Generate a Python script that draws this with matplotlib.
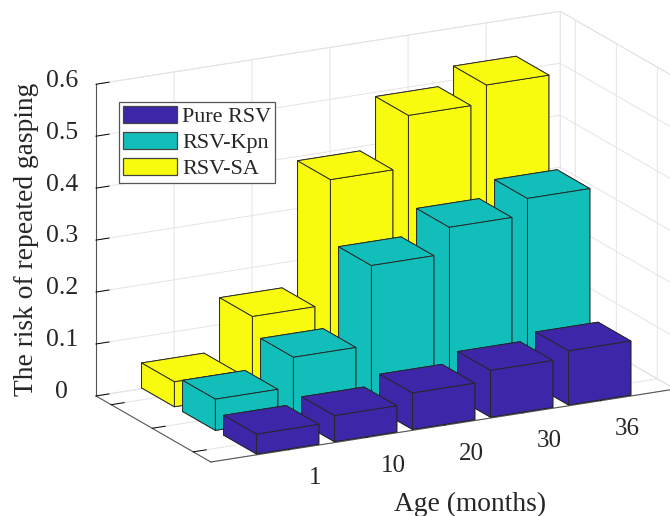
import matplotlib
matplotlib.use("Agg")
import matplotlib.pyplot as plt
import numpy as np
from matplotlib.patches import Patch
from matplotlib.transforms import ScaledTranslation
from mpl_toolkits.mplot3d import proj3d

ages = ['1', '10', '20', '30', '36']
series = ['Pure RSV', 'RSV-Kpn', 'RSV-SA']
pure = [0.038, 0.05, 0.07, 0.09, 0.104]
kpn = [0.06, 0.117, 0.27, 0.32, 0.352]
sa = [0.048, 0.15, 0.39, 0.49, 0.525]
values = [pure, kpn, sa]
colors = ['#3E26A8', '#12BEB9', '#F9FB0E']
zticks = [0, 0.1, 0.2, 0.3, 0.4, 0.5, 0.6]
ink = '#262626'

plt.rcParams['font.family'] = ['Liberation Serif']
W, H = 670, 516
fig = plt.figure(figsize=(W / 100, H / 100), dpi=100)
ax = fig.add_axes([0, 0, 1, 1.0], projection='3d', proj_type='ortho')
ax.computed_zorder = False
ax.view_init(elev=17.5, azim=-117.6)
ax.set_box_aspect((524, 248, 327), zoom=1.0)
XMIN, XMAX, YMIN, YMAX = 0, 5.95, 0.57, 3.37
w = 0.8
order = 0
for j in range(2, -1, -1):
    for i in range(len(ages) - 1, -1, -1):
        order += 1
        ax.bar3d(i + 1 - w / 2, j + 1 - w / 2, 0, w, w, values[j][i], color=colors[j],
                 edgecolor=ink, linewidth=0.65, shade=False, zsort='max', zorder=order)
ax.set_xlim(XMIN, XMAX)
ax.set_ylim(YMIN, YMAX)
ax.set_zlim(0, 0.6)
ax.set_xticks(range(1, 6))
ax.set_xticklabels(ages, fontsize=18, color=ink)
ax.set_yticks([1, 2, 3])
ax.set_yticklabels([])
ax.set_zticks(zticks)
ax.set_zticklabels([str(z) for z in zticks], fontsize=18.5, color=ink)
ax.tick_params(axis='x', pad=5)
ax.tick_params(axis='z', pad=5)
for a in (ax.xaxis, ax.yaxis, ax.zaxis):
    a.set_pane_color((1, 1, 1, 1))
    a.pane.set_edgecolor('#e4e4e4')
    a.pane.set_linewidth(0.7)
    a._axinfo['grid'].update(color='#e4e4e4', linewidth=0.7)
    a._axinfo['tick'].update(inward_factor=0.0, outward_factor=0.35, linewidth={True: 0.7, False: 0.7}, color=ink)
    a.line.set_color('#555555')
    a.line.set_linewidth(0.8)

# nudge the tick labels (pixels) to where the reference has them;
# Axis3D resets the label transform whenever it fetches its ticks, so hook that call
def nudge(axis, dx, dy):
    fetch = axis.get_major_ticks
    shift = ScaledTranslation(dx / 100, dy / 100, fig.dpi_scale_trans)
    def get_major_ticks(numticks=None):
        ticks = fetch(numticks)
        for t in ticks:
            t.label1.set_transform(ax.transData + shift)
        return ticks
    axis.get_major_ticks = get_major_ticks

nudge(ax.xaxis, 20, 3)
nudge(ax.zaxis, -3, 15)

# fit the axes box so that the floor corners land where the reference has them
def corner_px(x, y, z):
    xs, ys, _ = proj3d.proj_transform(x, y, z, ax.get_proj())
    return ax.transData.transform((xs, ys))

fig.canvas.draw()
p_left = corner_px(XMIN, YMAX, 0)
p_right = corner_px(XMAX, YMIN, 0)
t_left = np.array([96, H - 396.0])
t_right = np.array([675, H - 389.0])
k = np.linalg.norm(t_right - t_left) / np.linalg.norm(p_right - p_left)
bb = ax.get_position()
x0, y0, bw, bh = bb.x0 * W, bb.y0 * H, bb.width * W, bb.height * H
side = bw * k
cen_old = np.array([x0 + bw / 2, y0 + bh / 2])
mid_old = (p_left + p_right) / 2
mid_new = (t_left + t_right) / 2
cen_new = mid_new - (mid_old - cen_old) * k
ax.set_position([(cen_new[0] - side / 2) / W, (cen_new[1] - side / 2) / H, side / W, side / H])

fig.text(470 / W, 1 - 504 / H, 'Age (months)', fontsize=19.8, color=ink, ha='center', va='center')
fig.text(27 / W, 1 - 239 / H, 'The risk of repeated gasping', fontsize=19.8, color=ink,
         rotation=90, ha='center', va='center')

handles = [Patch(facecolor=c, edgecolor='#444444', linewidth=0.9) for c in colors]
leg = fig.legend(handles, series, loc='upper left', bbox_to_anchor=(119 / W, 1 - 102 / H), fontsize=15.9,
                 frameon=True, fancybox=False, edgecolor='#555555', framealpha=1, labelcolor=ink,
                 borderpad=0.18, labelspacing=0.2, handlelength=2.45, handleheight=0.84, handletextpad=0.23,
                 borderaxespad=0)
leg.get_frame().set_linewidth(0.9)
fig.savefig('out.png', dpi=100)
